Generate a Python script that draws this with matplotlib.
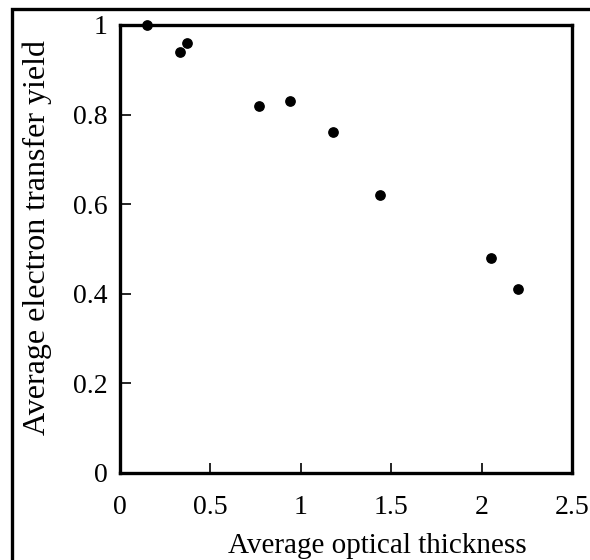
import matplotlib.pyplot as plt
from matplotlib.patches import Rectangle

# data
optical_thickness = [0.15, 0.33, 0.37, 0.77, 0.94, 1.18, 1.44, 2.05, 2.20]
transfer_yield = [1.00, 0.94, 0.96, 0.82, 0.83, 0.76, 0.62, 0.48, 0.41]

x_ticks = [0, 0.5, 1, 1.5, 2, 2.5]
x_tick_labels = ['0', '0.5', '1', '1.5', '2', '2.5']
y_ticks = [0, 0.2, 0.4, 0.6, 0.8, 1]
y_tick_labels = ['0', '0.2', '0.4', '0.6', '0.8', '1']

plt.rcParams['font.family'] = ['Liberation Serif', 'DejaVu Serif']

fig = plt.figure(figsize=(5.9, 5.6), dpi=100)
ax = fig.add_axes([0.2034, 0.1554, 0.7661, 0.8])

ax.scatter(optical_thickness, transfer_yield, s=45, color='black', zorder=3, clip_on=False)

ax.set_xlim(0, 2.5)
ax.set_ylim(0, 1)
ax.set_xticks(x_ticks)
ax.set_xticklabels(x_tick_labels)
ax.set_yticks(y_ticks)
ax.set_yticklabels(y_tick_labels)
ax.tick_params(axis='x', direction='in', length=7, width=1.2, labelsize=20, pad=16)
ax.tick_params(axis='y', direction='in', length=8, width=1.2, labelsize=20, pad=9)
for s in ax.spines.values():
    s.set_linewidth(2.4)

ax.set_xlabel('Average optical thickness', fontsize=21)
ax.xaxis.set_label_coords(0.57, -0.135)
ax.set_ylabel('Average electron transfer yield', fontsize=23)
ax.yaxis.set_label_coords(-0.15, 0.526)

# outer frame around the figure (only left/top visible)
fig.patches.append(Rectangle((12 / 590, -0.1), 1.2, (560 - 9) / 560 + 0.1,
                             transform=fig.transFigure, fill=False,
                             linewidth=2.4, edgecolor='black'))

fig.savefig('out.png', dpi=100)
